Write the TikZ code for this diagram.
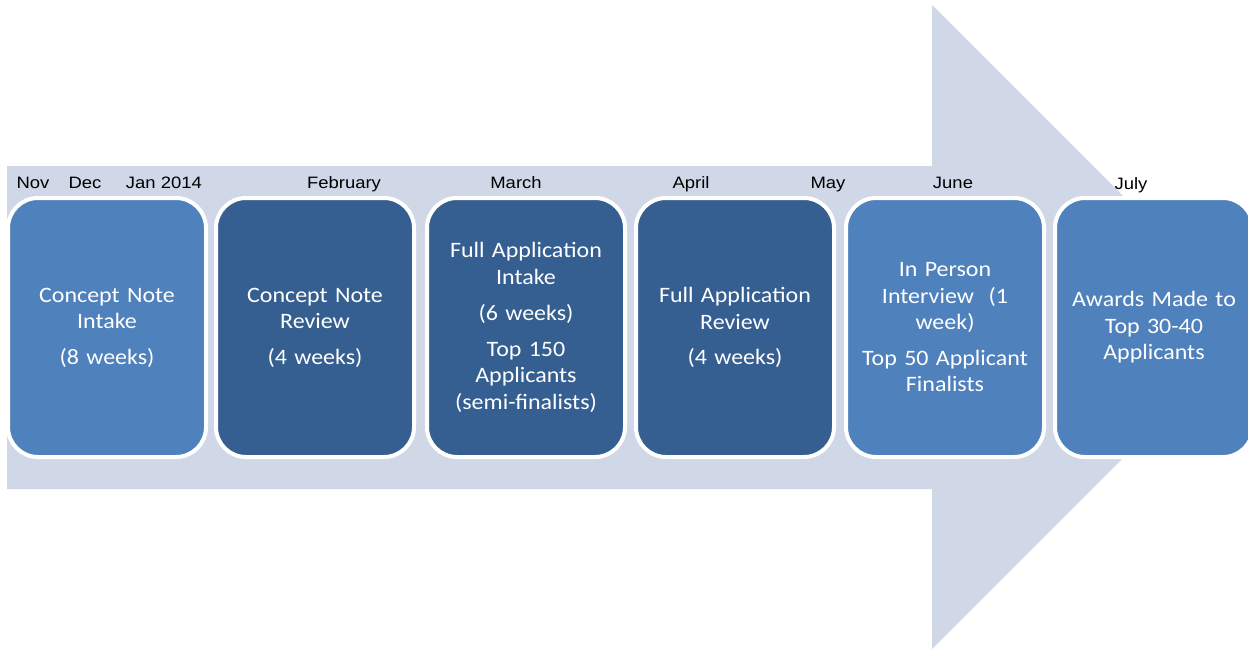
\documentclass[tikz,border=0pt]{standalone}
\usepackage{fontspec}
\newfontfamily\boxfont{Carlito}[FakeStretch=1.09]
\newfontfamily\monthfont{Liberation Sans}[FakeStretch=1.12]
\definecolor{arrowfill}{HTML}{D0D8E8}
\definecolor{lightbox}{HTML}{4F81BD}
\definecolor{darkbox}{HTML}{365F91}
\begin{document}
\begin{tikzpicture}[x=1pt,y=-1pt,
  stagebox/.style={rounded corners=30pt, draw=white, line width=4pt,
    minimum width=198pt, minimum height=259pt, text=white, align=center,
    text width=188pt, inner sep=0pt,
    font=\boxfont\fontsize{22}{26.5}\selectfont},
  month/.style={anchor=base, inner sep=0pt,
    font=\monthfont\fontsize{16.5}{20}\selectfont}]
\useasboundingbox (0,0) rectangle (1248,649);
\clip (0,0) rectangle (1248,649);
\fill[arrowfill] (7,166) -- (932,166) -- (932,5) -- (1254,327) -- (932,649) -- (932,489) -- (7,489) -- cycle;

\node[stagebox, fill=lightbox] (b1) at (107,327.5) {Concept Note\\Intake\\[9pt](8 weeks)};
\node[stagebox, fill=darkbox] (b2) at (315,327.5) {Concept Note\\Review\\[9pt](4 weeks)};
\node[stagebox, fill=darkbox] (b3) at (526,327.5) {Full Application\\Intake\\[10pt](6 weeks)\\[9pt]Top 150\\Applicants\\(semi-finalists)};
\node[stagebox, fill=darkbox] (b4) at (735,327.5) {Full Application\\Review\\[9pt](4 weeks)};
\node[stagebox, fill=lightbox] (b5) at (945,327.5) {In Person\\Interview~~(1\\week)\\[9pt]Top 50 Applicant\\Finalists};
\node[stagebox, fill=lightbox] (b6) at (1154,327.5) {Awards Made to\\Top 30-40\\Applicants};

\node[month] (m1) at (33,188.5) {Nov};
\node[month] (m2) at (85,188.5) {Dec};
\node[month] (m3) at (164,188.5) {Jan 2014};
\node[month] (m4) at (344,188.5) {February};
\node[month] (m5) at (516,188.5) {March};
\node[month] (m6) at (691,188.5) {April};
\node[month] (m7) at (828,188.5) {May};
\node[month] (m8) at (953,188.5) {June};
\node[month] (m9) at (1131,189.5) {July};
\end{tikzpicture}
\end{document}
